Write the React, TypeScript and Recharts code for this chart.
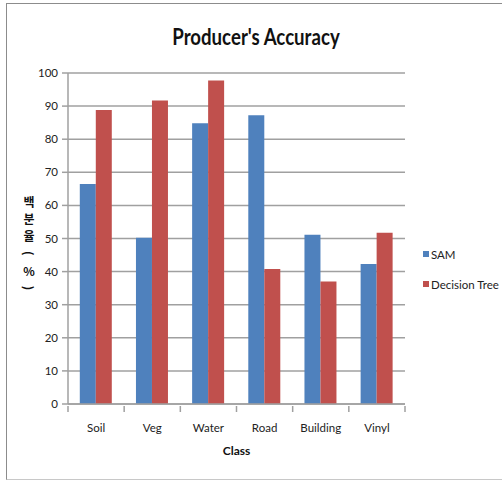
import { BarChart, Bar, XAxis, YAxis, CartesianGrid } from "recharts";

const classes = ["Soil", "Veg", "Water", "Road", "Building", "Vinyl"];
const samValues = [66.5, 50.2, 84.8, 87.2, 51.1, 42.3];
const treeValues = [88.8, 91.7, 97.7, 40.8, 37.0, 51.7];
const yTicks = [0, 10, 20, 30, 40, 50, 60, 70, 80, 90, 100];
const yLabelChars = ["백", "분", "율", "(", "%", ")"];

const SERIES = [
  { key: "sam", name: "SAM", color: "#4f81bd" },
  { key: "tree", name: "Decision Tree", color: "#c0504d" },
];

const data = classes.map((c, i) => ({ name: c, sam: samValues[i], tree: treeValues[i] }));

const FONT = 'Lato, "Noto Sans", sans-serif';
const KR_FONT = '"Noto Sans CJK KR", "Noto Sans", sans-serif';
const GRID = "#a0a0a0";

// category label plus a tick mark on the left edge of each band (and the right edge of the last)
function ClassTick(props: any) {
  const { x, y, payload, index } = props;
  const half = payload.offset || 0;
  const axisY = y - 6;
  return (
    <g>
      <line x1={x - half} x2={x - half} y1={axisY} y2={axisY + 6} stroke={GRID} strokeWidth={1.5} />
      {index === classes.length - 1 && (
        <line x1={x + half} x2={x + half} y1={axisY} y2={axisY + 6} stroke={GRID} strokeWidth={1.5} />
      )}
      <text x={x} y={432} textAnchor="middle" fontSize={11.5} fill="#222" fontFamily={FONT}>
        {payload.value}
      </text>
    </g>
  );
}

// stacked vertical title: hangul upright, brackets turned
function YTitle() {
  return (
    <g fontFamily={KR_FONT} fontSize={12} fontWeight="bold" fill="#111">
      {yLabelChars.map((ch, i) => {
        const cy = 201 + i * 17.4;
        const paren = ch === "(" || ch === ")";
        return (
          <text
            key={i}
            x={29}
            y={cy}
            textAnchor="middle"
            dominantBaseline="central"
            transform={paren ? `rotate(90 29 ${cy})` : undefined}
          >
            {ch}
          </text>
        );
      })}
    </g>
  );
}

export default function App() {
  return (
    <div style={{ position: "relative", width: 502, height: 481, overflow: "hidden", background: "#fff" }}>
      <style>{"body{margin:0}"}</style>
      <div
        style={{
          position: "absolute",
          left: 6,
          top: 3,
          width: 600,
          height: 475,
          border: "1px solid #8c8c8c",
          borderBottomColor: "#c8c8c8",
        }}
      />
      <div
        style={{
          position: "absolute",
          left: 0,
          width: 512,
          top: 22,
          textAlign: "center",
          fontFamily: FONT,
          fontWeight: "bold",
          fontSize: 23,
          color: "#111",
          transform: "scaleX(0.81)",
          transformOrigin: "256px 0",
          whiteSpace: "nowrap",
        }}
      >
        Producer's Accuracy
      </div>
      <BarChart
        width={502}
        height={481}
        data={data}
        margin={{ top: 73, right: 97, bottom: 0, left: 0 }}
        barCategoryGap="21%"
        barGap={0}
        style={{ position: "absolute", left: 0, top: 0 }}
      >
        <CartesianGrid horizontal vertical={false} stroke={GRID} strokeWidth={1.5} />
        <XAxis
          dataKey="name"
          height={77}
          interval={0}
          tickLine={false}
          axisLine={{ stroke: GRID, strokeWidth: 1.5 }}
          tick={<ClassTick />}
          label={{
            value: "Class",
            content: ({ viewBox }: any) => (
              <text
                x={viewBox.x + viewBox.width / 2}
                y={455}
                textAnchor="middle"
                fontSize={12}
                fontWeight="bold"
                fill="#111"
                fontFamily={FONT}
              >
                Class
              </text>
            ),
          }}
        />
        <YAxis
          width={68}
          domain={[0, 100]}
          ticks={yTicks}
          interval={0}
          tickSize={6}
          tickMargin={4}
          tickLine={{ stroke: GRID, strokeWidth: 1.5 }}
          axisLine={{ stroke: GRID, strokeWidth: 1.5 }}
          tick={{ fontSize: 11.5, fill: "#222", fontFamily: FONT }}
          label={{ value: "백분율(%)", content: () => <YTitle /> }}
        />
        {SERIES.map((s) => (
          <Bar key={s.key} dataKey={s.key} name={s.name} fill={s.color} isAnimationActive={false} />
        ))}
      </BarChart>
      <div style={{ position: "absolute", left: 423, top: 246, fontFamily: FONT, fontSize: 11.5, color: "#222" }}>
        {SERIES.map((s, i) => (
          <div key={s.key} style={{ display: "flex", alignItems: "center", height: 16, marginBottom: i === 0 ? 14 : 0 }}>
            <span style={{ width: 6, height: 6, background: s.color, marginRight: 2 }} />
            <span>{s.name}</span>
          </div>
        ))}
      </div>
    </div>
  );
}
